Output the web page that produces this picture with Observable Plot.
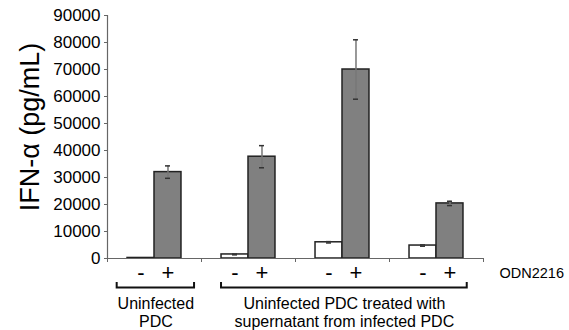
<!DOCTYPE html>
<html>
<head>
<meta charset="utf-8">
<script src="https://cdn.jsdelivr.net/npm/d3@7"></script>
<script src="https://cdn.jsdelivr.net/npm/@observablehq/plot@0.6"></script>
<style>
  html, body { margin: 0; padding: 0; background: #fff; }
</style>
</head>
<body>
<div id="chart"></div>
<script>
// ---- data ----
const groups = [0, 1, 2, 3];               // condition index (left to right)
const odnLabels = ["-", "+"];              // ODN2216 treatment
const minusValues = [200, 1500, 6000, 4800];
const minusErrors = [0, 150, 250, 250];
const plusValues = [32000, 37700, 70000, 20400];
const plusErrors = [2300, 4100, 11000, 800];
const yTicks = [0, 10000, 20000, 30000, 40000, 50000, 60000, 70000, 80000, 90000];
const yLabel = "IFN-α (pg/mL)";
const treatmentLabel = "ODN2216";
const bracketLabels = ["Uninfected\nPDC", "Uninfected PDC treated with\nsupernatant from infected PDC"];
const bracketFrom = [0, 1];
const bracketTo = [0, 3];

// ---- layout constants ----
const barStart = [0.213, 0.5];   // within-group offsets for "-" and "+"
const barWidth = 0.287;
const bracketInsets = [[0.103, 0.074], [0.213, 0.173]];

const bars = [];
groups.forEach((g, i) => {
  bars.push({g, odn: odnLabels[0], value: minusValues[i], err: minusErrors[i],
    x1: g + barStart[0], x2: g + barStart[0] + barWidth, fill: "white"});
  bars.push({g, odn: odnLabels[1], value: plusValues[i], err: plusErrors[i],
    x1: g + barStart[1], x2: g + barStart[1] + barWidth, fill: "#808080"});
});
bars.forEach(d => d.cx = (d.x1 + d.x2) / 2);
const errBars = bars.filter(d => d.err > 0);

const brackets = bracketLabels.map((label, i) => ({
  label,
  x1: bracketFrom[i] + bracketInsets[i][0],
  x2: bracketTo[i] + 1 - bracketInsets[i][1]
}));
brackets.forEach(b => b.cx = (b.x1 + b.x2) / 2);

function bracketMark(index, scales) {
  const g = d3.create("svg:g")
    .attr("fill", "none").attr("stroke", "#111").attr("stroke-width", 2);
  const y0 = scales.y(0);
  for (const b of brackets) {
    const xa = scales.x(b.x1), xb = scales.x(b.x2);
    g.append("path").attr("d", `M${xa},${y0 + 24}V${y0 + 29.5}H${xb}V${y0 + 24}`);
  }
  return g.node();
}

const chart = Plot.plot({
  width: 569,
  height: 330,
  marginLeft: 107,
  marginRight: 86,
  marginTop: 15,
  marginBottom: 72,
  style: {fontFamily: "'Liberation Sans', Arial, sans-serif", background: "white", color: "black"},
  x: {domain: [0, 4]},
  y: {domain: [0, 90000]},
  marks: [
    Plot.axisY({ticks: yTicks, tickFormat: d => String(d), tickSize: 3, tickPadding: 4, fontSize: 17, label: null, stroke: "#666", fill: "black"}),
    Plot.axisX({ticks: [0, 1, 2, 3, 4], tickFormat: () => "", tickSize: 4, label: null, stroke: "#666"}),
    Plot.rectY(bars, {x1: "x1", x2: "x2", y: "value", fill: "fill", stroke: "#222", strokeWidth: 1.5}),
    Plot.ruleX(errBars, {x: "cx", y1: d => d.value - d.err, y2: d => d.value + d.err, stroke: "#777", strokeWidth: 1.5}),
    Plot.ruleY(errBars, {x1: "cx", x2: "cx", y: d => d.value + d.err, insetLeft: -2.5, insetRight: -2.5, stroke: "#333", strokeWidth: 1.5}),
    Plot.ruleY(errBars, {x1: "cx", x2: "cx", y: d => d.value - d.err, insetLeft: -2.5, insetRight: -2.5, stroke: "#333", strokeWidth: 1.5}),
    Plot.ruleY([0], {stroke: "#666", strokeWidth: 1.2}),
    Plot.ruleX([0], {stroke: "#666", strokeWidth: 1.2}),
    Plot.text(bars, {x: "cx", y: () => 0, text: "odn", dy: 14, fontSize: 22, lineAnchor: "middle", fill: "black"}),
    Plot.text([treatmentLabel], {x: () => 4, y: () => 0, text: d => d, dx: 16, dy: 14.5, textAnchor: "start", fontSize: 14.5, fill: "black"}),
    Plot.text(brackets, {x: "cx", y: () => 0, text: "label", dy: 37.3, lineAnchor: "top", lineHeight: 1.15, fontSize: 16, fill: "black"}),
    Plot.text([yLabel], {frameAnchor: "left", text: d => d, rotate: -90, dx: -77.6, dy: -10, fontSize: 27, textAnchor: "middle", lineAnchor: "middle", fill: "black"}),
    bracketMark
  ]
});
document.getElementById("chart").appendChild(chart);
</script>
</body>
</html>
